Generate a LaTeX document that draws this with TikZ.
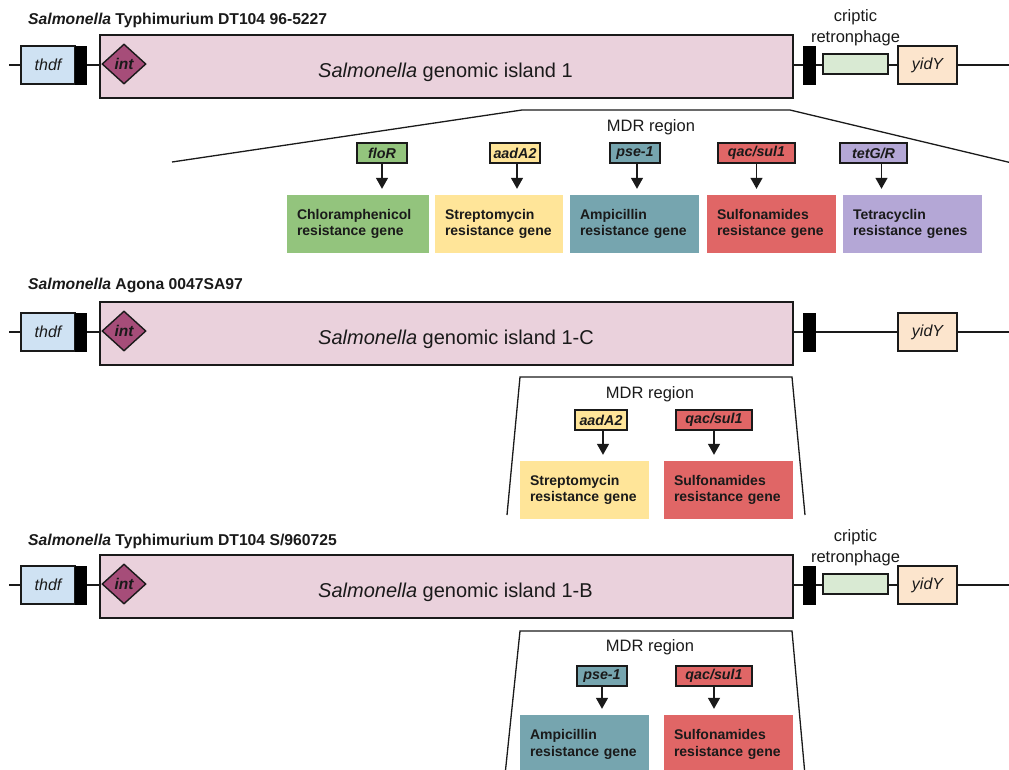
\documentclass[tikz,border=0pt]{standalone}
\usepackage{fontspec}
\setmainfont{Liberation Sans}
\usetikzlibrary{arrows.meta,shapes.geometric}

\definecolor{islandc}{HTML}{EAD1DC}
\definecolor{intc}{HTML}{A64D79}
\definecolor{thdfc}{HTML}{CFE2F3}
\definecolor{retronc}{HTML}{D9EAD3}
\definecolor{yidyc}{HTML}{FCE5CD}
\definecolor{greenc}{HTML}{93C47D}
\definecolor{yellowc}{HTML}{FFE599}
\definecolor{tealc}{HTML}{76A5AF}
\definecolor{redc}{HTML}{E06666}
\definecolor{purplec}{HTML}{B4A7D6}
\definecolor{inkc}{HTML}{1A1A1A}

\newcommand{\titlefont}{\fontsize{15.7}{18}\selectfont\bfseries}
\newcommand{\islandfont}{\fontsize{20}{24}\selectfont}
\newcommand{\genefont}{\fontsize{16}{19}\selectfont\itshape}
\newcommand{\notefont}{\fontsize{16.5}{21}\selectfont}
\newcommand{\sgfont}{\fontsize{14.3}{16}\selectfont\bfseries\itshape}
\newcommand{\resfont}{\fontsize{14}{16.8}\selectfont\bfseries}

\tikzset{
  ln/.style={line width=1.4pt, draw=inkc},
  title/.style={anchor=base west, inner sep=0pt, font=\titlefont, text=inkc},
  gene/.style={draw=inkc, line width=1.4pt, minimum height=38pt, inner sep=0pt, font=\genefont, text=inkc},
  bar/.style={fill=black, draw=black, line width=0.6pt, minimum height=38pt, inner sep=0pt},
  island/.style={draw=inkc, line width=1.4pt, fill=islandc, minimum width=693pt, minimum height=63pt, inner sep=0pt},
  islandlabel/.style={anchor=base west, inner sep=0pt, font=\islandfont, text=inkc},
  intd/.style={diamond, draw=inkc, line width=1.4pt, fill=intc, minimum width=44pt, minimum height=40pt, inner sep=0pt, font=\fontsize{15.5}{18}\selectfont\bfseries\itshape, text=inkc},
  note/.style={align=center, inner sep=0pt, font=\notefont, text=inkc},
  sgene/.style={draw=inkc, line width=1.4pt, minimum height=20pt, inner sep=0pt, font=\sgfont, text=inkc},
  res/.style={minimum height=58pt, inner xsep=10pt, inner ysep=0pt, align=left, font=\resfont, text=inkc},
  arr/.style={line width=1.4pt, draw=inkc, -{Triangle[width=12pt,length=11pt]}, shorten >=6pt},
  trap/.style={line width=1.3pt, draw=inkc}
}

\begin{document}
\begin{tikzpicture}[x=1pt, y=-1pt]
\useasboundingbox (0,0) rectangle (1009,769);

% ---------------- Typhimurium DT104 96-5227 ----------------
\node[title] (t1) at (28,24) {\textit{Salmonella} Typhimurium DT104 96-5227};
\coordinate (l1) at (9,65);
\coordinate (r1) at (1012,65);
\draw[ln] (l1) -- (r1);
\node[gene, fill=thdfc, minimum width=54pt] (thdf1) at (48,65) {thdf};
\node[bar, minimum width=11pt] (ba1) at (80.5,65) {};
\node[island] (isl1) at (446.5,66.5) {};
\node[islandlabel] (lab1) at (318,77) {\textit{Salmonella} genomic island 1};
\node[intd] (int1) at (124,64) {int};
\node[bar, minimum width=12pt] (bb1) at (809,65) {};
\node[gene, fill=retronc, minimum width=65pt, minimum height=20pt] (ret1) at (855.5,64) {};
\node[gene, fill=yidyc, minimum width=59pt] (yid1) at (927.5,65) {yidY};
\node[note, anchor=south] (crip1) at (855.5,46) {criptic\\retronphage};

% MDR region zoom
\coordinate (m1a) at (172,162);
\coordinate (m1b) at (522,110);
\coordinate (m1c) at (790,110);
\coordinate (m1d) at (1012,163);
\draw[trap] (m1a) -- (m1b) -- (m1c) -- (m1d);
\node[note] (mdr1) at (651,127) {MDR region};

\node[sgene, fill=greenc, minimum width=50pt] (g11) at (382,153) {floR};
\node[sgene, fill=yellowc, minimum width=50pt] (g12) at (515,153) {aadA2};
\node[sgene, fill=tealc, minimum width=50pt] (g13) at (635,153) {pse-1};
\node[sgene, fill=redc, minimum width=77pt] (g14) at (756.5,153) {qac/sul1};
\node[sgene, fill=purplec, minimum width=67pt] (g15) at (873.5,153) {tetG/R};

\node[res, fill=greenc, text width=122pt] (b11) at (358,224) {Chloramphenicol\\resistance gene};
\node[res, fill=yellowc, text width=108pt] (b12) at (499,224) {Streptomycin\\resistance gene};
\node[res, fill=tealc, text width=109pt] (b13) at (634.5,224) {Ampicillin\\resistance gene};
\node[res, fill=redc, text width=109pt] (b14) at (771.5,224) {Sulfonamides\\resistance gene};
\node[res, fill=purplec, text width=119pt] (b15) at (912.5,224) {Tetracyclin\\resistance genes};

\draw[arr] (g11.south) -- (g11.south |- b11.north);
\draw[arr] ([xshift=2pt]g12.south) -- ([xshift=2pt]g12.south |- b12.north);
\draw[arr] ([xshift=2pt]g13.south) -- ([xshift=2pt]g13.south |- b13.north);
\draw[arr] (g14.south) -- (g14.south |- b14.north);
\draw[arr] ([xshift=8pt]g15.south) -- ([xshift=8pt]g15.south |- b15.north);

% ---------------- Agona 0047SA97 ----------------
\node[title] (t2) at (28,289) {\textit{Salmonella} Agona 0047SA97};
\coordinate (l2) at (9,332);
\coordinate (r2) at (1012,332);
\draw[ln] (l2) -- (r2);
\node[gene, fill=thdfc, minimum width=54pt] (thdf2) at (48,332) {thdf};
\node[bar, minimum width=11pt] (ba2) at (80.5,332) {};
\node[island] (isl2) at (446.5,333.5) {};
\node[islandlabel] (lab2) at (318,344) {\textit{Salmonella} genomic island 1-C};
\node[intd] (int2) at (124,331) {int};
\node[bar, minimum width=12pt] (bb2) at (809,332) {};
\node[gene, fill=yidyc, minimum width=59pt] (yid2) at (927.5,332) {yidY};

\coordinate (m2a) at (507,515);
\coordinate (m2b) at (520,377);
\coordinate (m2c) at (792,377);
\coordinate (m2d) at (805,515);
\draw[trap] (m2a) -- (m2b) -- (m2c) -- (m2d);
\node[note] (mdr2) at (650,394) {MDR region};

\node[sgene, fill=yellowc, minimum width=52pt] (g21) at (601,420) {aadA2};
\node[sgene, fill=redc, minimum width=76pt] (g22) at (714,420) {qac/sul1};

\node[res, fill=yellowc, text width=109pt] (b21) at (584.5,490) {Streptomycin\\resistance gene};
\node[res, fill=redc, text width=109pt] (b22) at (728.5,490) {Sulfonamides\\resistance gene};

\draw[arr] ([xshift=2pt]g21.south) -- ([xshift=2pt]g21.south |- b21.north);
\draw[arr] (g22.south) -- (g22.south |- b22.north);

% ---------------- Typhimurium DT104 S/960725 ----------------
\node[title] (t3) at (28,545) {\textit{Salmonella} Typhimurium DT104 S/960725};
\coordinate (l3) at (9,585);
\coordinate (r3) at (1012,585);
\draw[ln] (l3) -- (r3);
\node[gene, fill=thdfc, minimum width=54pt] (thdf3) at (48,585) {thdf};
\node[bar, minimum width=11pt] (ba3) at (80.5,585) {};
\node[island] (isl3) at (446.5,586.5) {};
\node[islandlabel] (lab3) at (318,597) {\textit{Salmonella} genomic island 1-B};
\node[intd] (int3) at (124,584) {int};
\node[bar, minimum width=12pt] (bb3) at (809,585) {};
\node[gene, fill=retronc, minimum width=65pt, minimum height=20pt] (ret3) at (855.5,584) {};
\node[gene, fill=yidyc, minimum width=59pt] (yid3) at (927.5,585) {yidY};
\node[note, anchor=south] (crip3) at (855.5,566) {criptic\\retronphage};

\coordinate (m3a) at (505,775);
\coordinate (m3b) at (520,631);
\coordinate (m3c) at (792,631);
\coordinate (m3d) at (805,775);
\draw[trap] (m3a) -- (m3b) -- (m3c) -- (m3d);
\node[note] (mdr3) at (650,647) {MDR region};

\node[sgene, fill=tealc, minimum width=50pt] (g31) at (602,676) {pse-1};
\node[sgene, fill=redc, minimum width=76pt] (g32) at (714,676) {qac/sul1};

\node[res, fill=tealc, text width=109pt] (b31) at (584.5,744) {Ampicillin\\resistance gene};
\node[res, fill=redc, text width=109pt] (b32) at (728.5,744) {Sulfonamides\\resistance gene};

\draw[arr] (g31.south) -- (g31.south |- b31.north);
\draw[arr] (g32.south) -- (g32.south |- b32.north);
\end{tikzpicture}
\end{document}
